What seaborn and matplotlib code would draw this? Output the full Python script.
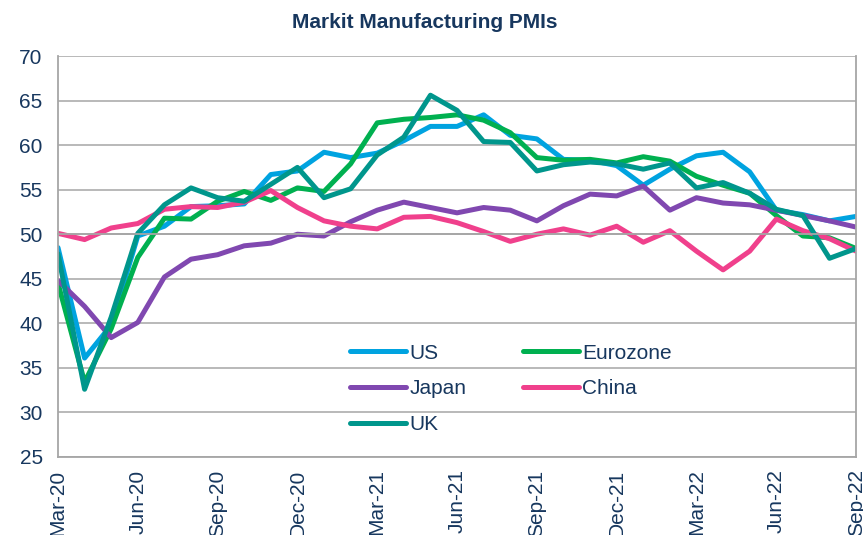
import pandas as pd
import matplotlib
matplotlib.use("Agg")
import matplotlib.pyplot as plt
import seaborn as sns

months = ["Mar-20", "Apr-20", "May-20", "Jun-20", "Jul-20", "Aug-20", "Sep-20", "Oct-20",
          "Nov-20", "Dec-20", "Jan-21", "Feb-21", "Mar-21", "Apr-21", "May-21", "Jun-21",
          "Jul-21", "Aug-21", "Sep-21", "Oct-21", "Nov-21", "Dec-21", "Jan-22", "Feb-22",
          "Mar-22", "Apr-22", "May-22", "Jun-22", "Jul-22", "Aug-22", "Sep-22"]

us = [48.5, 36.1, 39.8, 49.8, 50.9, 53.1, 53.2, 53.4, 56.7, 57.1, 59.2, 58.6, 59.1, 60.5, 62.1, 62.1,
      63.4, 61.1, 60.7, 58.4, 58.3, 57.7, 55.5, 57.3, 58.8, 59.2, 57.0, 52.7, 52.2, 51.5, 52.0]
eurozone = [44.5, 33.4, 39.4, 47.4, 51.8, 51.7, 53.7, 54.8, 53.8, 55.2, 54.8, 57.9, 62.5, 62.9, 63.1, 63.4,
            62.8, 61.4, 58.6, 58.3, 58.4, 58.0, 58.7, 58.2, 56.5, 55.5, 54.6, 52.1, 49.8, 49.6, 48.4]
japan = [44.8, 41.9, 38.4, 40.1, 45.2, 47.2, 47.7, 48.7, 49.0, 50.0, 49.8, 51.4, 52.7, 53.6, 53.0, 52.4,
         53.0, 52.7, 51.5, 53.2, 54.5, 54.3, 55.4, 52.7, 54.1, 53.5, 53.3, 52.7, 52.1, 51.5, 50.8]
china = [50.1, 49.4, 50.7, 51.2, 52.8, 53.1, 53.0, 53.6, 54.9, 53.0, 51.5, 50.9, 50.6, 51.9, 52.0, 51.3,
         50.3, 49.2, 50.0, 50.6, 49.9, 50.9, 49.1, 50.4, 48.1, 46.0, 48.1, 51.7, 50.4, 49.5, 48.1]
uk = [47.8, 32.6, 40.7, 50.1, 53.3, 55.2, 54.1, 53.7, 55.6, 57.5, 54.1, 55.1, 58.9, 60.9, 65.6, 63.9,
      60.4, 60.3, 57.1, 57.8, 58.1, 57.9, 57.3, 58.0, 55.2, 55.8, 54.6, 52.8, 52.1, 47.3, 48.4]

series = {"US": us, "Eurozone": eurozone, "Japan": japan, "China": china, "UK": uk}
colors = {"US": "#00A3E0", "Eurozone": "#00B050", "Japan": "#8048B0",
          "China": "#F0408C", "UK": "#00968C"}

df = pd.DataFrame({"idx": range(len(months)), **series})
long = df.melt(id_vars="idx", var_name="region", value_name="pmi")

navy = "#17375E"
grey = "#A6A6A6"

sns.set_style("white")
plt.rcParams["font.family"] = ["Liberation Sans", "DejaVu Sans"]

fig = plt.figure(figsize=(8.63, 5.35), dpi=100)
ax = fig.add_axes([0.0672, 0.1458, 0.9248, 0.7495])

sns.lineplot(data=long, x="idx", y="pmi", hue="region", palette=colors,
             linewidth=3.6, ax=ax, legend=False)

ax.set_xlim(0, len(months) - 1)
ax.set_ylim(25, 70)
ax.set_yticks(range(25, 71, 5))
ax.yaxis.grid(True, color=grey, linewidth=1.1)
ax.set_axisbelow(True)
ax.set_xlabel("")
ax.set_ylabel("")

# category axis crosses at 50, labels sit at the bottom
tick_pos = list(range(0, len(months), 3))
ax.spines["bottom"].set_position(("data", 50))
ax.set_xticks(tick_pos)
ax.tick_params(axis="x", direction="out", length=5, width=1.1, color=grey,
               labelbottom=False)
sec = ax.secondary_xaxis(0)
sec.set_xticks(tick_pos, [months[i] for i in tick_pos])
sec.tick_params(length=0, pad=9, labelsize=15, labelcolor=navy, labelrotation=90)
sec.spines["bottom"].set_color(grey)
sec.spines["bottom"].set_linewidth(1.3)

ax.tick_params(axis="y", direction="out", length=5, width=1.1, color=grey,
               labelsize=15, labelcolor=navy, pad=6)
for s in ["left", "right", "bottom"]:
    ax.spines[s].set_color(grey)
    ax.spines[s].set_linewidth(1.3)
ax.spines["top"].set_visible(False)

order = ["US", "Japan", "UK", "Eurozone", "China"]
handles = [plt.Line2D([], [], color=colors[k], linewidth=3.6, solid_capstyle="round")
           for k in order]
ax.legend(handles, order, loc="upper left", bbox_to_anchor=(0.366, 0.283), ncol=2,
          frameon=False, fontsize=15, labelcolor=navy, handlelength=2.7,
          handletextpad=0.15, columnspacing=2.7, labelspacing=0.8,
          borderpad=0, borderaxespad=0)

fig.text(0.4925, 0.958, "Markit Manufacturing PMIs", ha="center", va="center",
         fontsize=15, fontweight="bold", color=navy)

fig.savefig("out.png", dpi=100)
